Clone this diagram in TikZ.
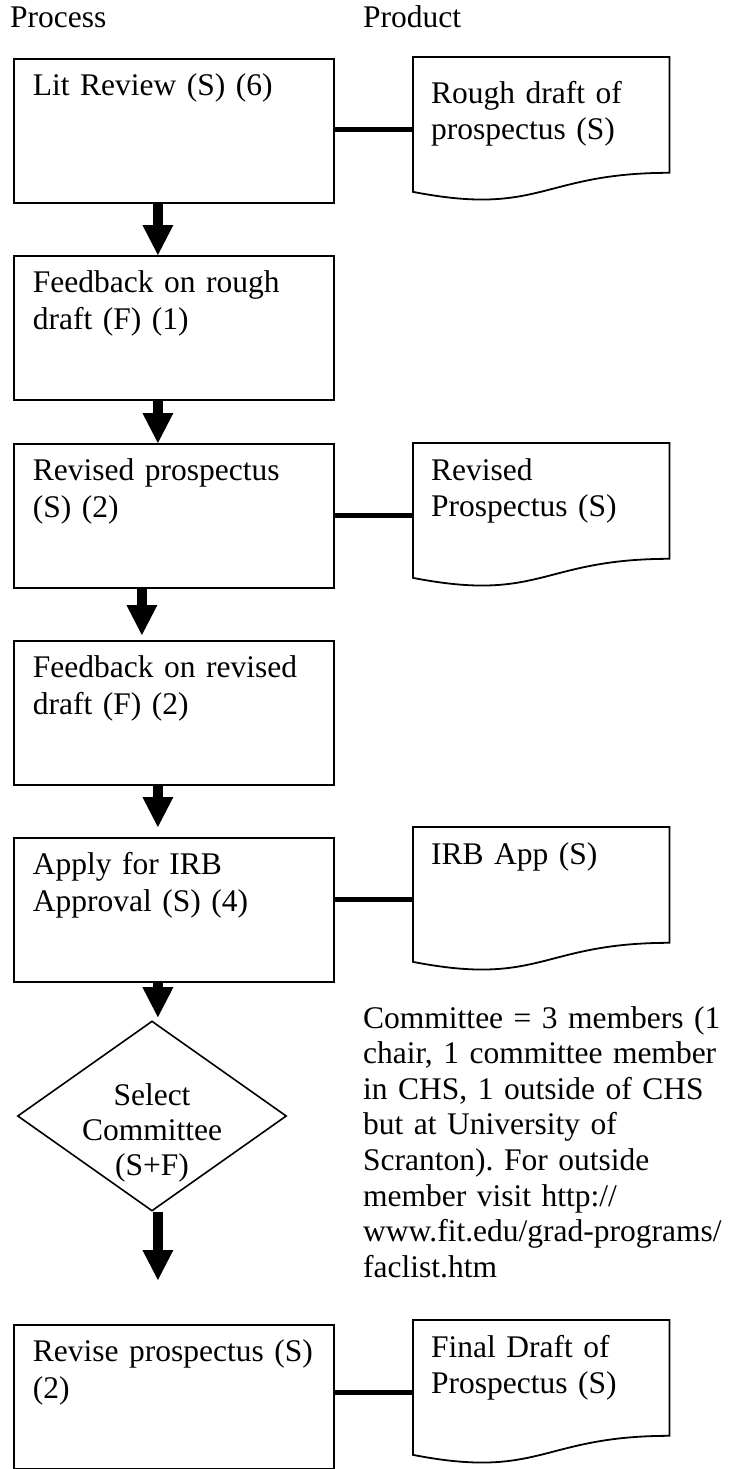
\documentclass[tikz,border=0pt]{standalone}
\usepackage{fontspec}
\setmainfont{Liberation Serif}
\usetikzlibrary{shapes.geometric,arrows.meta,calc}
\frenchspacing
\tikzset{
  stepbox/.style={draw,line width=1.8pt,anchor=north west,text width=282pt,
    align=left,inner xsep=19pt,inner ysep=8pt,text height=29pt,text depth=99pt},
  product/.style={anchor=north west,text width=220pt,align=left,
    inner xsep=18pt,inner ysep=8pt,text height=29pt,text depth=99pt},
  decision/.style={draw,diamond,line width=1.6pt,minimum width=269pt,
    minimum height=190pt,inner sep=0pt,text width=160pt,align=center,
    text height=0pt,text depth=22pt},
  flow/.style={line width=10.5pt,-{Triangle[width=31pt,length=30pt,line width=0pt]}},
  link/.style={line width=5pt},
  head/.style={anchor=base west,inner sep=0pt}
}
% outline of a product sheet, wavy bottom
\newcommand\docpath[1]{\draw[line width=1.8pt] (#1.north west) -- (#1.north east)
  -- ($(#1.north east)!0.802!(#1.south east)$)
  .. controls ($(#1.north)!0.802!(#1.south)$) and ($(#1.north)!1.107!(#1.south)$)
  .. ($(#1.north west)!0.934!(#1.south west)$) -- cycle;}
\begin{document}
\begin{tikzpicture}[x=1pt,y=-1pt,font=\fontsize{31.5}{36.5}\selectfont]
  \useasboundingbox (0,0) rectangle (730,1469);
  \node[head] (proc) at (10,28) {Process};
  \node[head] (prod) at (363,28) {Product};
  % process column
  \node[stepbox] (b1) at (13,58) {Lit Review (S) (6)};
  \node[stepbox] (b2) at (13,255) {Feedback on rough\\ draft (F) (1)};
  \node[stepbox] (b3) at (13,443) {Revised prospectus\\ (S) (2)};
  \node[stepbox] (b4) at (13,640) {Feedback on revised\\ draft (F) (2)};
  \node[stepbox] (b5) at (13,837) {Apply for IRB\\ Approval (S) (4)};
  \node[decision,font=\fontsize{31.5}{35}\selectfont] (sel) at (152,1116)
    {Select\\ Committee\\ (S+F)};
  \node[stepbox] (b6) at (13,1324) {Revise prospectus (S)\\ (2)};
  % product column
  \node[product,text height=38pt,text depth=90pt] (d1) at (413,57)
    {Rough draft of\\ prospectus (S)};
  \node[product] (d2) at (413,443) {Revised\\ Prospectus (S)};
  \node[product] (d3) at (413,827) {IRB App (S)};
  \node[product] (d4) at (413,1320) {Final Draft of\\ Prospectus (S)};
  \foreach \d in {d1,d2,d3,d4} \docpath{\d}
  \foreach \b/\d in {b1/d1,b3/d2,b5/d3,b6/d4}
    \draw[link] (\b.east |- \d.west) -- (\d.west);
  \node[anchor=base west,text width=370pt,align=left,inner sep=0pt,
    font=\fontsize{31.5}{35.6}\selectfont] (note) at (363,1028)
    {Committee = 3 members (1\\ chair, 1 committee member\\ in CHS, 1 outside of CHS\\
     but at University of\\ Scranton). For outside\\ member visit http://\\
     www.fit.edu/grad-programs/\\ faclist.htm};
  % arrows
  \draw[flow] ([xshift=-16pt]b1.south) -- ([xshift=-16pt]b2.north);
  \draw[flow] ([xshift=-16pt]b2.south) -- ([xshift=-16pt]b3.north);
  \draw[flow,shorten >=5pt] ([xshift=-32pt]b3.south) -- ([xshift=-32pt]b4.north);
  \draw[flow,shorten >=10pt] ([xshift=-16pt]b4.south) -- ([xshift=-16pt]b5.north);
  \draw[flow,shorten >=3pt] ([xshift=-16pt]b5.south) -- ([xshift=-16pt]b5.south |- sel.north);
  \coordinate (stop) at ([xshift=-16pt,yshift=44pt]b6.north);
  \draw[flow] (stop |- sel.south) -- (stop);
\end{tikzpicture}
\end{document}
